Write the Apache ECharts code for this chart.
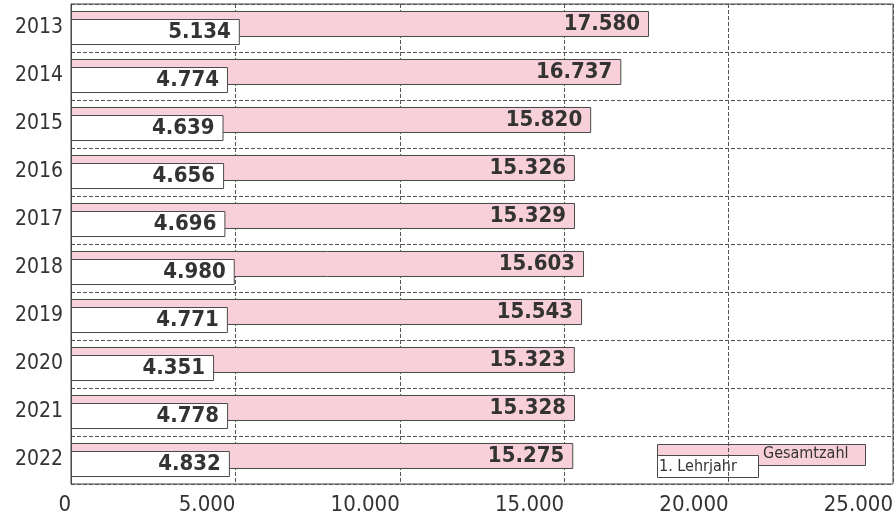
<!DOCTYPE html>
<html>
<head>
<meta charset="utf-8">
<script src="https://cdn.jsdelivr.net/npm/echarts@6/dist/echarts.min.js"></script>
<style>
  html, body { margin: 0; padding: 0; background: #fff; }
  #main { width: 896px; height: 521px; }
</style>
</head>
<body>
<div id="main"></div>
<script>
// Jahre und Werte
const years = ['2013', '2014', '2015', '2016', '2017', '2018', '2019', '2020', '2021', '2022'];
const gesamtzahl = [17580, 16737, 15820, 15326, 15329, 15603, 15543, 15323, 15328, 15275];
const lehrjahr1 = [5134, 4774, 4639, 4656, 4696, 4980, 4771, 4351, 4778, 4832];
const xTicks = [0, 5000, 10000, 15000, 20000, 25000];

const font = '"DejaVu Sans Condensed", "DejaVu Sans", sans-serif';
const pink = '#f8d0d9';
const edge = '#4a4a4a';

// 15326 -> "15.326"
const fmt = (v) => String(v).replace(/\B(?=(\d{3})+(?!\d))/g, '.');

const barLabel = {
  show: true,
  position: 'insideRight',
  distance: 9,
  color: '#333',
  fontFamily: font,
  fontWeight: 'bold',
  fontSize: 22,
  formatter: (p) => fmt(p.value)
};

const chart = echarts.init(document.getElementById('main'));

chart.setOption({
  animation: false,
  grid: {
    left: 71, right: 2, top: 4, bottom: 37,
    show: true, borderColor: '#444', borderWidth: 1
  },
  xAxis: {
    type: 'value',
    min: 0, max: 25000, interval: 5000,
    axisLine: { show: false },
    axisTick: { show: false },
    axisLabel: {
      color: '#333', fontFamily: font, fontSize: 22, margin: 10,
      align: 'right',
      alignMinLabel: 'right',
      alignMaxLabel: 'right',
      formatter: (v) => xTicks.includes(v) ? fmt(v) : ''
    },
    splitLine: { lineStyle: { color: '#555', type: [4, 2] } }
  },
  yAxis: {
    type: 'category',
    data: years,
    inverse: true,
    axisLine: { lineStyle: { color: '#444' } },
    axisTick: { show: false },
    axisLabel: { color: '#333', fontFamily: font, fontSize: 21, margin: 8 },
    splitLine: { show: true, lineStyle: { color: '#555', type: [4, 2] } }
  },
  series: [
    {
      name: 'Gesamtzahl',
      type: 'bar',
      data: gesamtzahl,
      barWidth: 26,
      barGap: '-69%',
      itemStyle: { color: pink, borderColor: edge, borderWidth: 1 },
      label: barLabel
    },
    {
      name: '1. Lehrjahr',
      type: 'bar',
      data: lehrjahr1,
      barWidth: 26,
      itemStyle: { color: '#fff', borderColor: edge, borderWidth: 1 },
      label: barLabel
    }
  ],
  // Legende unten rechts, wie im Original ineinandergeschoben
  graphic: [
    {
      type: 'rect', left: 657, top: 444,
      shape: { width: 208, height: 21 },
      style: { fill: pink, stroke: edge, lineWidth: 1 }
    },
    {
      type: 'text', left: 763, top: 446,
      style: { text: 'Gesamtzahl', fill: '#333', font: '16px ' + font }
    },
    {
      type: 'rect', left: 657, top: 455,
      shape: { width: 101, height: 22 },
      style: { fill: '#fff', stroke: edge, lineWidth: 1 }
    },
    {
      type: 'text', left: 659, top: 459,
      style: { text: '1. Lehrjahr', fill: '#333', font: '16px ' + font }
    }
  ]
});
</script>
</body>
</html>
